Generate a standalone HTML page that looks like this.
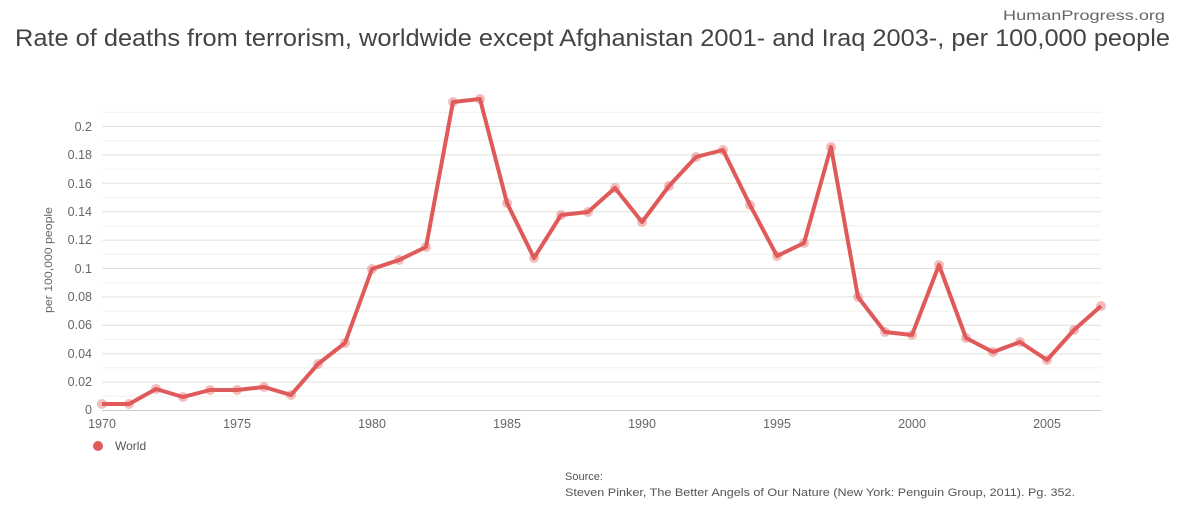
<!DOCTYPE html>
<html><head><meta charset="utf-8"><style>
body{margin:0;background:#fff;width:1200px;height:520px;overflow:hidden;font-family:"Liberation Sans",sans-serif}
</style></head><body>
<svg width="1200" height="520" xmlns="http://www.w3.org/2000/svg" font-family="Liberation Sans, sans-serif">
<text x="1003" y="20" font-size="14" fill="#666" textLength="162" lengthAdjust="spacingAndGlyphs">HumanProgress.org</text>
<text x="15" y="46" font-size="24" fill="#444" textLength="1155" lengthAdjust="spacingAndGlyphs">Rate of deaths from terrorism, worldwide except Afghanistan 2001- and Iraq 2003-, per 100,000 people</text>
<g stroke="#f0f0ec" stroke-width="1">
<line x1="102" x2="1101" y1="112.3" y2="112.3"/><line x1="102" x2="1101" y1="140.7" y2="140.7"/><line x1="102" x2="1101" y1="169.1" y2="169.1"/><line x1="102" x2="1101" y1="197.5" y2="197.5"/><line x1="102" x2="1101" y1="225.9" y2="225.9"/><line x1="102" x2="1101" y1="254.3" y2="254.3"/><line x1="102" x2="1101" y1="282.7" y2="282.7"/><line x1="102" x2="1101" y1="311.1" y2="311.1"/><line x1="102" x2="1101" y1="339.5" y2="339.5"/><line x1="102" x2="1101" y1="367.9" y2="367.9"/><line x1="102" x2="1101" y1="396.3" y2="396.3"/>
</g>
<g stroke="#e0e0dc" stroke-width="1">
<line x1="102" x2="1101" y1="126.5" y2="126.5"/><line x1="102" x2="1101" y1="154.9" y2="154.9"/><line x1="102" x2="1101" y1="183.3" y2="183.3"/><line x1="102" x2="1101" y1="211.7" y2="211.7"/><line x1="102" x2="1101" y1="240.1" y2="240.1"/><line x1="102" x2="1101" y1="268.5" y2="268.5"/><line x1="102" x2="1101" y1="296.9" y2="296.9"/><line x1="102" x2="1101" y1="325.3" y2="325.3"/><line x1="102" x2="1101" y1="353.7" y2="353.7"/><line x1="102" x2="1101" y1="382.1" y2="382.1"/>
</g>
<line x1="102" x2="1101" y1="410.5" y2="410.5" stroke="#ccc"/>
<g font-size="12.5" fill="#666" text-anchor="end">
<text x="92" y="131">0.2</text><text x="92" y="159">0.18</text><text x="92" y="188">0.16</text><text x="92" y="216">0.14</text><text x="92" y="244">0.12</text><text x="92" y="273">0.1</text><text x="92" y="301">0.08</text><text x="92" y="329">0.06</text><text x="92" y="358">0.04</text><text x="92" y="386">0.02</text><text x="92" y="414">0</text>
</g>
<g font-size="12.5" fill="#666" text-anchor="middle">
<text x="102" y="428">1970</text><text x="237" y="428">1975</text><text x="372" y="428">1980</text><text x="507" y="428">1985</text><text x="642" y="428">1990</text><text x="777" y="428">1995</text><text x="912" y="428">2000</text><text x="1047" y="428">2005</text>
</g>
<text transform="translate(52,260) rotate(-90)" font-size="11" fill="#666" text-anchor="middle" textLength="106" lengthAdjust="spacingAndGlyphs">per 100,000 people</text>
<polyline fill="none" stroke="#e05a5a" stroke-width="4" stroke-linejoin="round" points="102,404 129,404 156,389 183,397 210,390 237,390 264,387 291,395 318,364 345,343 372,269 399,260 426,247 453,102 480,99 507,203 534,258 561,215 588,212 615,188 642,222 669,186 696,157 723,150 750,205 777,256 804,243 831,147 858,297 885,332 912,335 939,265 966,338 993,352 1020,342 1047,360 1074,330 1101,306"/>
<g fill="#e05a5a" fill-opacity="0.4">
<circle cx="102" cy="404" r="5"/><circle cx="129" cy="404" r="5"/><circle cx="156" cy="389" r="5"/><circle cx="183" cy="397" r="5"/><circle cx="210" cy="390" r="5"/><circle cx="237" cy="390" r="5"/><circle cx="264" cy="387" r="5"/><circle cx="291" cy="395" r="5"/><circle cx="318" cy="364" r="5"/><circle cx="345" cy="343" r="5"/><circle cx="372" cy="269" r="5"/><circle cx="399" cy="260" r="5"/><circle cx="426" cy="247" r="5"/><circle cx="453" cy="102" r="5"/><circle cx="480" cy="99" r="5"/><circle cx="507" cy="203" r="5"/><circle cx="534" cy="258" r="5"/><circle cx="561" cy="215" r="5"/><circle cx="588" cy="212" r="5"/><circle cx="615" cy="188" r="5"/><circle cx="642" cy="222" r="5"/><circle cx="669" cy="186" r="5"/><circle cx="696" cy="157" r="5"/><circle cx="723" cy="150" r="5"/><circle cx="750" cy="205" r="5"/><circle cx="777" cy="256" r="5"/><circle cx="804" cy="243" r="5"/><circle cx="831" cy="147" r="5"/><circle cx="858" cy="297" r="5"/><circle cx="885" cy="332" r="5"/><circle cx="912" cy="335" r="5"/><circle cx="939" cy="265" r="5"/><circle cx="966" cy="338" r="5"/><circle cx="993" cy="352" r="5"/><circle cx="1020" cy="342" r="5"/><circle cx="1047" cy="360" r="5"/><circle cx="1074" cy="330" r="5"/><circle cx="1101" cy="306" r="5"/>
</g>
<circle cx="98" cy="446" r="5" fill="#e05a5a"/>
<text x="115" y="450" font-size="12" fill="#555">World</text>
<text x="565" y="480" font-size="11" fill="#555">Source:</text>
<text x="565" y="496" font-size="11" fill="#555" textLength="510" lengthAdjust="spacingAndGlyphs">Steven Pinker, The Better Angels of Our Nature (New York: Penguin Group, 2011). Pg. 352.</text>
</svg>
</body></html>
